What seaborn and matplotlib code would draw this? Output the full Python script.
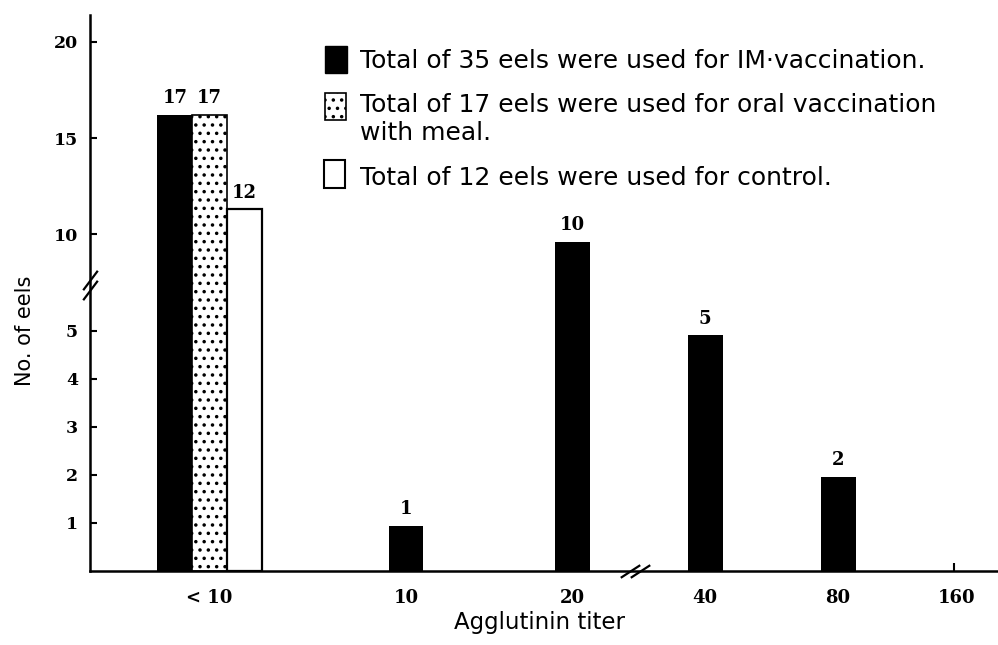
import numpy as np
import pandas as pd
import matplotlib
matplotlib.use("Agg")
import matplotlib.pyplot as plt
import seaborn as sns
from matplotlib.patches import Rectangle
from matplotlib.ticker import NullLocator

# ---------------- data ----------------
titers = ["< 10", "10", "20", "40", "80", "160"]
im_counts = [17, 1, 10, 5, 2, 0]            # labels printed above bars
im_heights = [16.2, 0.94, 9.6, 4.9, 1.95, 0]  # bar heights as drawn
oral_counts = [17, 0, 0, 0, 0, 0]
oral_heights = [16.2, 0, 0, 0, 0, 0]
ctrl_counts = [12, 0, 0, 0, 0, 0]
ctrl_heights = [11.3, 0, 0, 0, 0, 0]
legend_labels = [
    "Total of 35 eels were used for IM\u00b7vaccination.",
    "Total of 17 eels were used for oral vaccination",
    "with meal.",
    "Total of 12 eels were used for control.",
]
y_ticks = [1, 2, 3, 4, 5, 10, 15, 20]

# ---------------- layout ----------------
W, H = 998, 645
cat_pos = [2.09, 4.06, 5.72, 7.05, 8.38, 9.57]
bar_w = 0.35
grp_offsets = [-0.34, 0.005, 0.35]
# broken y axis: piecewise-linear scale knots
yk = [-1, 6, 8.5, 10, 30]
fk = [-1, 6, 6.4, 7, 15]

sns.set_style("ticks")
plt.rcParams.update({
    "hatch.linewidth": 1.3,
    "text.color": "black",
    "axes.labelcolor": "black",
    "xtick.color": "black",
    "ytick.color": "black",
    "axes.edgecolor": "black",
})

fig = plt.figure(figsize=(W / 100, H / 100), dpi=100)
ax = fig.add_axes([90 / W, 1 - 571 / H, (W - 90) / W, (571 - 15) / H])

series = [
    (im_counts, im_heights, dict(color="black", edgecolor="black", linewidth=0)),
    (oral_counts, oral_heights, dict(color="white", edgecolor="black", linewidth=1.2, hatch="..")),
    (ctrl_counts, ctrl_heights, dict(color="white", edgecolor="black", linewidth=1.6)),
]

n_active = [sum(1 for s in series if s[0][i] > 0) for i in range(len(titers))]

label_font = dict(family="DejaVu Serif", weight="bold", size=13)

for si, (counts, heights, style) in enumerate(series):
    xs, hs, cs = [], [], []
    for i, (c, h) in enumerate(zip(counts, heights)):
        if c > 0:
            off = grp_offsets[si] if n_active[i] > 1 else 0.0
            xs.append(cat_pos[i] + off)
            hs.append(h)
            cs.append(c)
    df = pd.DataFrame({"x": xs, "h": hs})
    uniq = np.unique(xs)
    native_w = np.min(np.diff(uniq)) if len(uniq) > 1 else 1.0
    sns.barplot(data=df, x="x", y="h", native_scale=True, width=bar_w / native_w,
                errorbar=None, saturation=1, ax=ax, **style)
    for x, h, c in zip(xs, hs, cs):
        ax.annotate(str(c), xy=(x, h), xytext=(0, 8.5), textcoords="offset points",
                    ha="center", va="baseline", color="black", **label_font)

ax.set_xlabel("")
ax.set_ylabel("")

fwd = lambda v: np.interp(v, yk, fk)
inv = lambda v: np.interp(v, fk, yk)
ax.set_yscale("function", functions=(fwd, inv))
ax.set_ylim(0, 21.4)
ax.set_xlim(0.9, 9.98)

ax.set_yticks(y_ticks)
ax.set_yticklabels([str(t) for t in y_ticks])
ax.yaxis.set_minor_locator(NullLocator())
ax.tick_params(axis="y", direction="in", length=5, width=1.5, pad=8.5, colors="black")
ax.set_xticks(cat_pos)
ax.set_xticklabels(titers)
ax.tick_params(axis="x", which="major", length=0, pad=13, colors="black")
ax.set_xticks([cat_pos[-1] - 0.03], minor=True)
ax.tick_params(axis="x", which="minor", direction="in", length=6, width=1.5)
for t in ax.get_yticklabels() + ax.get_xticklabels():
    t.set_fontfamily("DejaVu Serif")
    t.set_fontweight("bold")
    t.set_fontsize(12.5)
for t in ax.get_xticklabels():
    t.set_fontsize(13)

for s in ["top", "right"]:
    ax.spines[s].set_visible(False)
for s in ["left", "bottom"]:
    ax.spines[s].set_linewidth(1.8)
    ax.spines[s].set_color("black")
ax.grid(False)

# axis break marks
ax.plot([0, 0], [5.85, 6.25], transform=ax.get_yaxis_transform(), ls="none",
        marker=[(-0.75, -1), (0.75, 1)], markersize=14, mew=1.6, color="black", clip_on=False)
ax.plot([6.30, 6.40], [0, 0], transform=ax.get_xaxis_transform(), ls="none",
        marker=[(-1, -0.65), (1, 0.65)], markersize=14, mew=1.6, color="black", clip_on=False)

# axis titles
fig.text(25 / W, 1 - 331 / H, "No. of eels", rotation=90, ha="center", va="center",
         fontsize=15, family="DejaVu Sans", color="black")
fig.text(539 / W, 1 - 622 / H, "Agglutinin titer", ha="center", va="center",
         fontsize=16.5, family="DejaVu Sans", color="black")

# legend (drawn manually to match the figure)
fig.add_artist(Rectangle((325 / W, 1 - 73 / H), 22 / W, 27 / H, transform=fig.transFigure,
                         facecolor="black", edgecolor="black", lw=1))
fig.add_artist(Rectangle((325 / W, 1 - 120 / H), 21 / W, 27 / H, transform=fig.transFigure,
                         facecolor="white", edgecolor="black", lw=1.2, hatch=".."))
fig.add_artist(Rectangle((324 / W, 1 - 188 / H), 21 / W, 28 / H, transform=fig.transFigure,
                         facecolor="white", edgecolor="black", lw=1.5))
for lab, yb in zip(legend_labels, [68, 112, 140, 185]):
    fig.text(360 / W, 1 - yb / H, lab, ha="left", va="baseline", fontsize=18,
             family="DejaVu Sans", color="black")

fig.savefig("out.png", dpi=100, facecolor="white")
